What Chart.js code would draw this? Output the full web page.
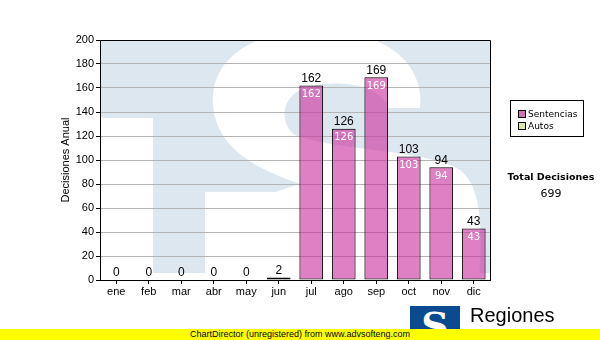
<!DOCTYPE html>
<html>
<head>
<meta charset="utf-8">
<script src="https://cdn.jsdelivr.net/npm/chart.js"></script>
<style>
  body { margin: 0; background: #fff; }
  #wrap { position: relative; width: 600px; height: 340px; overflow: hidden; font-family: "Liberation Sans", Arial, sans-serif; }
  #myChart { position: absolute; left: 0; top: 0; }
  .legend { position: absolute; left: 510px; top: 100px; width: 72px; height: 35px; border: 1px solid #000; background: #fff;
            font-family: "DejaVu Sans", Verdana, sans-serif; font-size: 9px; color: #000; }
  .legend div { position: absolute; left: 7px; white-space: nowrap; }
  .legend span { display: inline-block; width: 6px; height: 6px; border: 1px solid #000; margin-right: 2px; vertical-align: -1px; }
  .total { position: absolute; left: 500px; width: 102px; text-align: center; font-family: "DejaVu Sans", Verdana, sans-serif; font-size: 11px; }
  .footer { position: absolute; left: 0; top: 329px; width: 600px; height: 11px; background: #ffff00; }
  .footer div { position: absolute; left: 190px; top: 0px; font-size: 9px; color: #000; white-space: nowrap; }
  .logo { position: absolute; left: 410px; top: 306px; width: 50px; height: 34px; background: #0b4a8e; color: #fff;
          font: bold 38px "DejaVu Serif", serif; text-align: center; line-height: 40px; overflow: hidden; }
  .brand { position: absolute; left: 470px; top: 304px; font-size: 20px; color: #000; }
  .sub { position: absolute; left: 470px; top: 330px; font-size: 10px; color: #222; white-space: nowrap; }
</style>
</head>
<body>
<div id="wrap">
  <canvas id="myChart" width="600" height="340"></canvas>
  <div class="legend">
    <div style="top:8px"><span style="background:#d070b8"></span>Sentencias</div>
    <div style="top:20px"><span style="background:#dbeaa2"></span>Autos</div>
  </div>
  <div class="total" style="top:171px;font-weight:bold;font-size:9.5px">Total Decisiones</div>
  <div class="total" style="top:187px;font-size:11px">699</div>
  <div class="logo">S</div>
  <div class="sub">Tribunal Supremo de Justicia</div>
  <div class="brand">Regiones</div>
  <div class="footer"><div>ChartDirector (unregistered) from www.advsofteng.com</div></div>
</div>
<script>
const months = ['ene', 'feb', 'mar', 'abr', 'may', 'jun', 'jul', 'ago', 'sep', 'oct', 'nov', 'dic'];
const sentencias = [0, 0, 0, 0, 0, 2, 162, 126, 169, 103, 94, 43];
const autos = [0, 0, 0, 0, 0, 0, 0, 0, 0, 0, 0, 0];

// light blue "TS" logo watermark behind the plot
const watermark = {
    id: 'watermark',
    beforeDraw(chart) {
        const { ctx, chartArea: a } = chart;
        const sx = (a.right - a.left) / 390, sy = (a.bottom - a.top) / 240;
        const X = v => a.left + (v - 100) * sx, Y = v => a.top + (v - 40) * sy;
        const bz = (a1, b1, a2, b2, a3, b3) => ctx.bezierCurveTo(X(a1), Y(b1), X(a2), Y(b2), X(a3), Y(b3));
        ctx.save();
        ctx.beginPath();
        ctx.rect(a.left, a.top, a.right - a.left, a.bottom - a.top);
        ctx.clip();
        ctx.fillStyle = '#fff';
        ctx.fillRect(a.left, a.top, a.right - a.left, a.bottom - a.top);
        ctx.fillStyle = '#dde7f0';
        ctx.fillRect(a.left, a.top, a.right - a.left, Y(273) - a.top);
        ctx.fillStyle = '#fff';
        ctx.fillRect(a.left, Y(118), X(153) - a.left, Y(273) - Y(118));
        ctx.beginPath();
        ctx.moveTo(X(420), Y(108));
        bz(425, 60, 380, 30, 320, 30);
        bz(250, 30, 210, 60, 213, 105);
        bz(216, 150, 260, 170, 300, 184);
        ctx.lineTo(X(275), Y(192));
        ctx.lineTo(X(205), Y(192));
        ctx.lineTo(X(205), Y(290));
        ctx.lineTo(X(478), Y(290));
        bz(482, 240, 485, 190, 460, 170);
        bz(430, 150, 330, 150, 295, 135);
        bz(280, 125, 278, 95, 310, 86);
        bz(350, 78, 385, 90, 388, 108);
        ctx.closePath();
        ctx.fill();
        ctx.fillRect(a.left, Y(273), a.right - a.left, a.bottom - Y(273));
        ctx.restore();
    },
    afterDraw(chart) {
        const { ctx, chartArea: a } = chart;
        ctx.save();
        ctx.strokeStyle = '#000';
        ctx.lineWidth = 1;
        ctx.beginPath();
        ctx.moveTo(a.left, a.top + 0.5);
        ctx.lineTo(a.right + 0.5, a.top + 0.5);
        ctx.lineTo(a.right + 0.5, a.bottom);
        ctx.stroke();
        ctx.restore();
    }
};

const barLabels = {
    id: 'barLabels',
    afterDatasetsDraw(chart) {
        const { ctx } = chart;
        const bars = chart.getDatasetMeta(0).data;
        ctx.save();
        ctx.textAlign = 'center';
        bars.forEach((bar, i) => {
            const total = sentencias[i] + autos[i];
            const top = chart.scales.y.getPixelForValue(total);
            ctx.fillStyle = '#000';
            ctx.font = '12px "Liberation Sans", Arial, sans-serif';
            ctx.textBaseline = 'bottom';
            ctx.fillText(total, bar.x, top - 1);
            if (sentencias[i] > 10) {
                ctx.fillStyle = '#fff';
                ctx.font = '10px "DejaVu Sans", Verdana, sans-serif';
                ctx.textBaseline = 'top';
                ctx.fillText(sentencias[i], bar.x, bar.y + 4);
            }
        });
        ctx.restore();
    }
};

const config = {
    type: 'bar',
    data: {
        labels: months,
        datasets: [
            {
                label: 'Sentencias',
                data: sentencias,
                backgroundColor: 'rgba(203, 43, 157, 0.6)',
                borderColor: '#000',
                borderWidth: 1,
                borderSkipped: false,
                barPercentage: 0.73,
                categoryPercentage: 1
            },
            {
                label: 'Autos',
                data: autos,
                backgroundColor: '#dbeaa2',
                borderWidth: 0,
                barPercentage: 0.73,
                categoryPercentage: 1
            }
        ]
    },
    options: {
        responsive: false,
        animation: false,
        layout: { padding: { top: 40, right: 110, bottom: 40, left: 55 } },
        scales: {
            x: {
                stacked: true,
                afterFit: s => { s.height = 20; },
                grid: { offset: false, drawOnChartArea: false, tickLength: 4, color: '#000' },
                border: { color: '#000' },
                ticks: { color: '#000', padding: 1, font: { family: '"Liberation Sans", Arial, sans-serif', size: 11 } }
            },
            y: {
                stacked: true,
                min: 0,
                max: 200,
                afterFit: s => { s.width = 45; },
                grid: { color: '#b4b4b4', tickColor: '#000', tickLength: 4 },
                border: { color: '#000' },
                ticks: { stepSize: 20, color: '#000', padding: 2, font: { family: '"Liberation Sans", Arial, sans-serif', size: 11 } },
                title: {
                    display: true,
                    text: 'Decisiones Anual',
                    color: '#000',
                    padding: 4,
                    font: { family: '"Liberation Sans", Arial, sans-serif', size: 11 }
                }
            }
        },
        plugins: {
            legend: { display: false },
            tooltip: { enabled: false }
        }
    },
    plugins: [watermark, barLabels]
};

const myChart = new Chart(document.getElementById('myChart').getContext('2d'), config);
</script>
</body>
</html>
